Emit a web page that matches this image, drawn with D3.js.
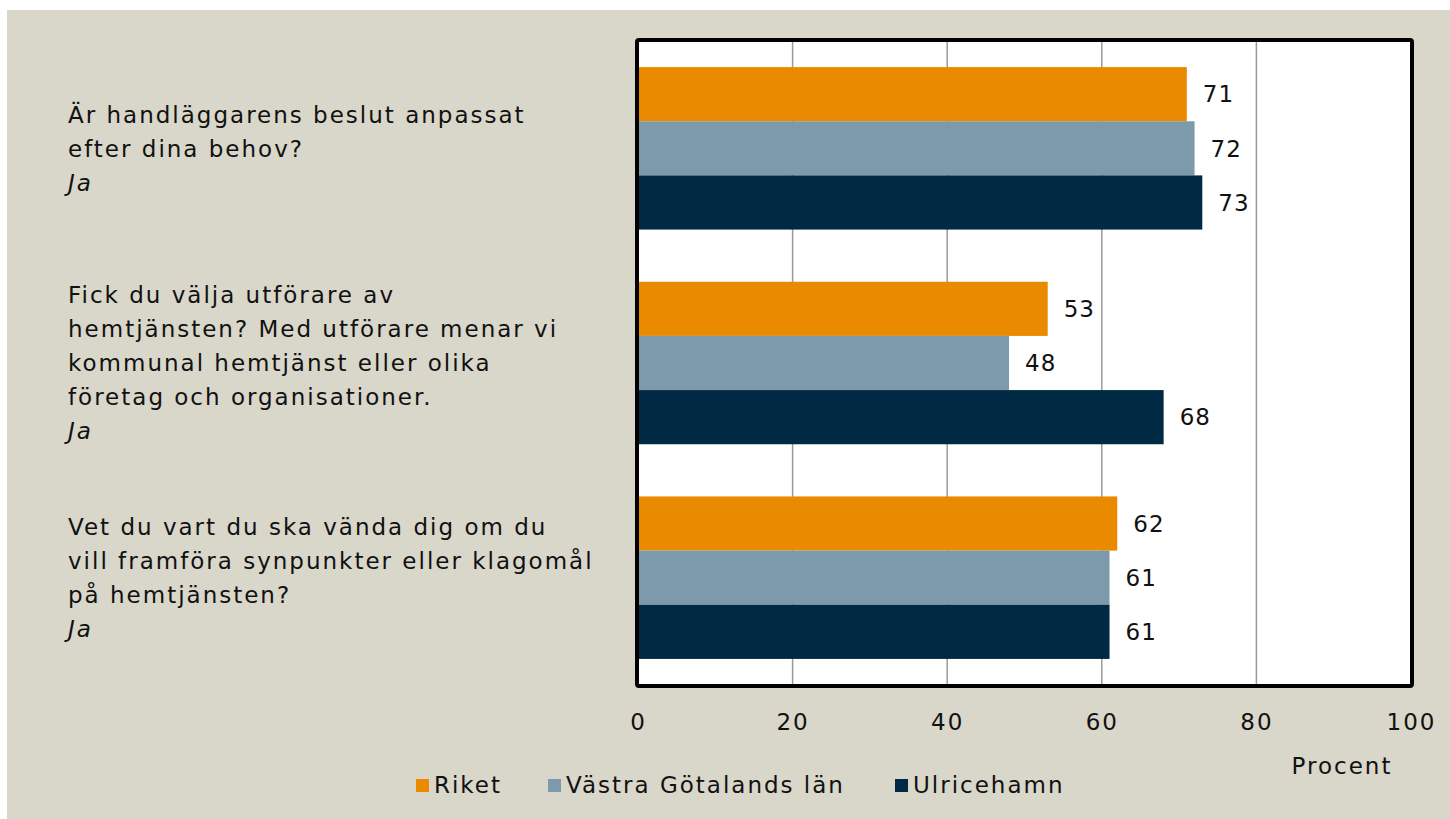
<!DOCTYPE html>
<html>
<head>
<meta charset="utf-8">
<script src="https://cdn.jsdelivr.net/npm/d3@7"></script>
<style>
  html, body { margin: 0; padding: 0; background: #fff; }
  svg text { font-family: "DejaVu Sans", sans-serif; fill: #111; }
  .wide { letter-spacing: 2px; }
</style>
</head>
<body>
<div id="chart"></div>
<script>
// data
var questions = [
  ["Är handläggarens beslut anpassat", "efter dina behov?"],
  ["Fick du välja utförare av", "hemtjänsten? Med utförare menar vi", "kommunal hemtjänst eller olika", "företag och organisationer."],
  ["Vet du vart du ska vända dig om du", "vill framföra synpunkter eller klagomål", "på hemtjänsten?"]
];
var answer = "Ja";
var seriesNames = ["Riket", "Västra Götalands län", "Ulricehamn"];
var riket = [71, 53, 62];
var vastraGotaland = [72, 48, 61];
var ulricehamn = [73, 68, 61];
var xTicks = [0, 20, 40, 60, 80, 100];
var colors = ["#EA8A00", "#7D9AAC", "#002A43"];

var width = 1450, height = 819;
var plot = { left: 638, right: 1411, top: 41, bottom: 685 };

var svg = d3.select("#chart").append("svg")
    .attr("width", width)
    .attr("height", height);

// background
svg.append("rect")
    .attr("x", 7).attr("y", 10)
    .attr("width", width - 7).attr("height", height - 10)
    .attr("fill", "#D9D6CA");

var x = d3.scaleLinear().domain([0, 100]).range([plot.left, plot.right]);
var y0 = d3.scaleBand().domain(d3.range(questions.length))
    .range([plot.top, plot.bottom]).paddingInner(0.243).paddingOuter(0.1215);
var y1 = d3.scaleBand().domain(d3.range(seriesNames.length)).range([0, y0.bandwidth()]);

// plot area
svg.append("rect")
    .attr("x", plot.left).attr("y", plot.top)
    .attr("width", plot.right - plot.left).attr("height", plot.bottom - plot.top)
    .attr("fill", "#fff");

// gridlines
svg.append("g").selectAll("line")
    .data(xTicks.slice(1, -1))
    .enter().append("line")
    .attr("x1", function(d) { return x(d); })
    .attr("x2", function(d) { return x(d); })
    .attr("y1", plot.top).attr("y2", plot.bottom)
    .attr("stroke", "#9a9a9a").attr("stroke-width", 1.5);

// bars
var allSeries = [riket, vastraGotaland, ulricehamn];
var groups = svg.append("g").selectAll("g")
    .data(questions)
    .enter().append("g")
    .attr("transform", function(d, i) { return "translate(0," + y0(i) + ")"; });

groups.each(function(q, qi) {
  var g = d3.select(this);
  var vals = allSeries.map(function(s) { return s[qi]; });
  g.selectAll("rect")
    .data(vals)
    .enter().append("rect")
    .attr("x", x(0))
    .attr("y", function(d, si) { return y1(si); })
    .attr("width", function(d) { return x(d) - x(0); })
    .attr("height", y1.bandwidth())
    .attr("fill", function(d, si) { return colors[si]; });
  g.selectAll("text.val")
    .data(vals)
    .enter().append("text")
    .attr("class", "val")
    .attr("x", function(d) { return x(d) + 16; })
    .attr("y", function(d, si) { return y1(si) + y1.bandwidth() / 2; })
    .attr("dy", "0.36em")
    .attr("font-size", 23)
    .attr("letter-spacing", 1)
    .text(function(d) { return d; });
});

// frame
svg.append("rect")
    .attr("x", plot.left - 1).attr("y", plot.top - 1)
    .attr("width", plot.right - plot.left + 2).attr("height", plot.bottom - plot.top + 2)
    .attr("rx", 2)
    .attr("fill", "none").attr("stroke", "#000").attr("stroke-width", 4);

// x axis labels
var xAxis = d3.axisBottom(x).tickValues(xTicks).tickSize(0).tickPadding(29);
var ax = svg.append("g")
    .attr("transform", "translate(0," + plot.bottom + ")")
    .call(xAxis);
ax.select(".domain").remove();
ax.selectAll("text")
    .attr("font-size", 23)
    .attr("letter-spacing", 2)
    .style("font-family", "DejaVu Sans, sans-serif")
    .attr("fill", "#111");

svg.append("text")
    .attr("class", "wide")
    .attr("x", 1342).attr("y", 766)
    .attr("dy", "0.36em")
    .attr("text-anchor", "middle")
    .attr("font-size", 23)
    .text("Procent");

// category labels
var lineH = 34;
svg.append("g").selectAll("text")
    .data(questions)
    .enter().append("text")
    .attr("class", "wide")
    .attr("font-size", 23)
    .each(function(q, qi) {
      var lines = q.concat([answer]);
      var cy = y0(qi) + y0.bandwidth() / 2;
      var top = cy - (lines.length - 1) * lineH / 2;
      var t = d3.select(this);
      lines.forEach(function(l, li) {
        t.append("tspan")
          .attr("x", 68)
          .attr("y", top + li * lineH)
          .attr("dy", "0.36em")
          .style("font-style", li === lines.length - 1 ? "italic" : "normal")
          .text(l);
      });
    });

// legend
var legendX = [416, 548, 895];
var leg = svg.append("g").selectAll("g")
    .data(seriesNames)
    .enter().append("g")
    .attr("transform", function(d, i) { return "translate(" + legendX[i] + ",785)"; });
leg.append("rect")
    .attr("x", 0).attr("y", -6)
    .attr("width", 13).attr("height", 13)
    .attr("fill", function(d, i) { return colors[i]; });
leg.append("text")
    .attr("class", "wide")
    .attr("x", 18).attr("dy", "0.36em")
    .attr("font-size", 23)
    .text(function(d) { return d; });
</script>
</body>
</html>
